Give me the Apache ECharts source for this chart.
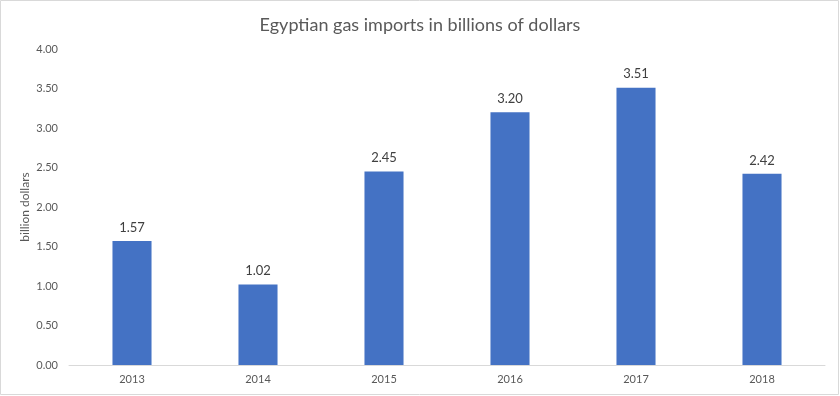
<!DOCTYPE html>
<html><head><meta charset="utf-8">
<script src="https://cdn.jsdelivr.net/npm/echarts@6/dist/echarts.min.js"></script>
<style>html,body{margin:0;padding:0;background:#fff}#c{width:840px;height:396px}</style>
</head><body><div id="c"></div>
<script>
const categories = ['2013','2014','2015','2016','2017','2018'];
const values = [1.57, 1.02, 2.45, 3.20, 3.51, 2.42];
const titleText = 'Egyptian gas imports in billions of dollars';
const yAxisName = 'billion dollars';

const chart = echarts.init(document.getElementById('c'));
chart.setOption({
  animation: false,
  graphic: [{type:'rect', shape:{x:0.5,y:0.5,width:838,height:394}, style:{fill:'none', stroke:'#d9d9d9', lineWidth:1}}],
  title: {text: titleText, left: 'center', top: 11,
    textStyle: {fontFamily: 'Lato', fontSize: 18, fontWeight: 'normal', color: '#595959'}},
  grid: {left: 69, right: 15, top: 49, bottom: 31},
  xAxis: {type: 'category', data: categories,
    axisLine: {lineStyle: {color: '#d9d9d9'}}, axisTick: {show: false},
    axisLabel: {fontFamily: 'Lato', fontSize: 11, color: '#595959', margin: 9}},
  yAxis: {type: 'value', min: 0, max: 4, interval: 0.5,
    name: yAxisName, nameLocation: 'middle', nameGap: 38, nameRotate: 90, nameMoveOverlap: false,
    nameTextStyle: {fontFamily: 'Lato', fontSize: 12, color: '#595959'},
    axisLine: {show: false}, axisTick: {show: false}, splitLine: {show: false},
    axisLabel: {fontFamily: 'Lato', fontSize: 11, color: '#595959', margin: 11,
      formatter: v => v.toFixed(2)}},
  series: [{type: 'bar', data: values, barWidth: '31%',
    itemStyle: {color: '#4472C4'},
    label: {show: true, position: 'top', distance: 7, fontFamily: 'Lato', fontSize: 13, color: '#404040',
      formatter: p => p.value.toFixed(2)}}]
});
</script></body></html>
